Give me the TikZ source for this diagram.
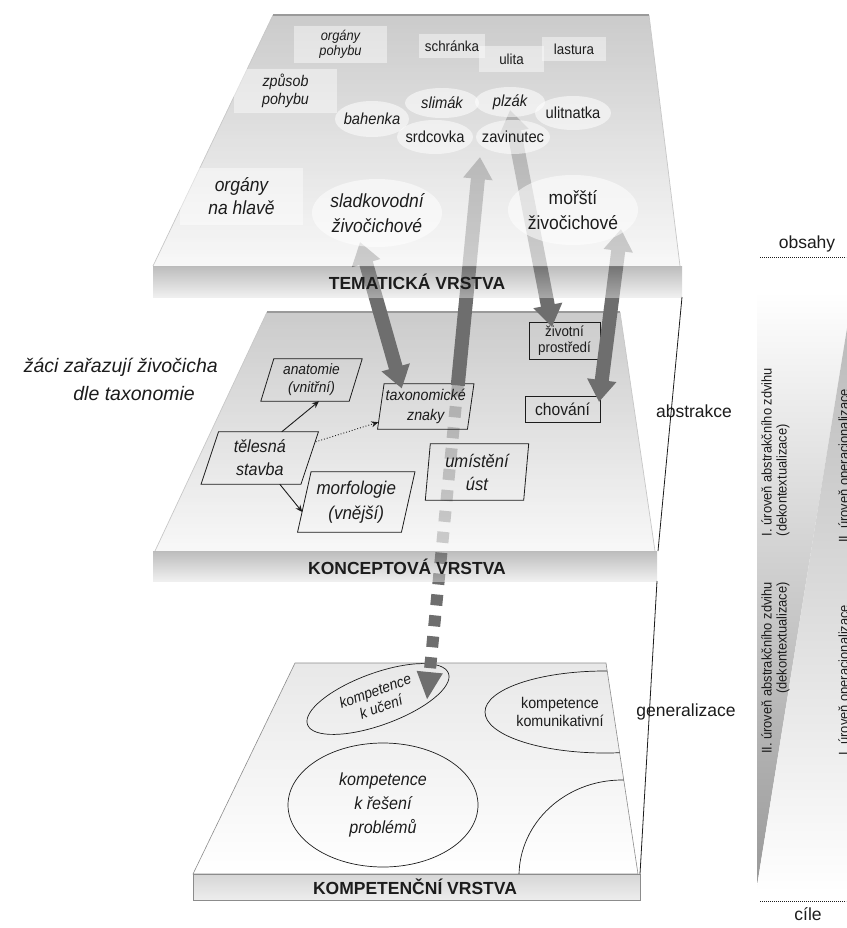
\documentclass[tikz,border=0pt]{standalone}
\usepackage{fontspec}
\setmainfont{Liberation Sans}[FakeStretch=0.92]
\newfontfamily\labelfont{Liberation Sans}
\usetikzlibrary{arrows.meta, positioning, calc, shapes.geometric}
\definecolor{ink}{HTML}{1C1C1C}
\definecolor{arrow-gray}{HTML}{6E6E6E}
\definecolor{rim-gray}{HTML}{9A9A9A}
\pgfdeclarelayer{base}
\pgfdeclarelayer{dash}
\pgfdeclarelayer{midplane}
\pgfdeclarelayer{midbox}
\pgfdeclarelayer{arrows}
\pgfdeclarelayer{topplane}
\pgfsetlayers{base,dash,midplane,midbox,arrows,topplane,main}
\newcommand\fs[2]{\fontsize{#1}{#2}\selectfont}
% light ellipse with its text on the top layer
\newcommand\spot[6]{%
  \fill[spotfill] (#2) ellipse [x radius=#3, y radius=#4];
  \node[font=#5, inner sep=0, align=center, text=ink] (#1) at (#2) {#6};}
% slanted frame round a body node
\newcommand\slantframe[2]{%
  \draw[boxline] ($(#1.south west)+(-#2,0)$) -- ($(#1.south east)+(-#2,0)$)
    -- ($(#1.north east)+(#2,0)$) -- ($(#1.north west)+(#2,0)$) -- cycle;}

\begin{document}
\begin{tikzpicture}[x=1pt, y=-1pt,
    plane/.style={fill opacity=0.7, top color=black!29, bottom color=black!4},
    slab/.style={fill opacity=0.5, top color=black!52, bottom color=black!12},
    rim/.style={draw=rim-gray, line width=1.4pt},
    sideedge/.style={draw=black!22, line width=0.7pt},
    slablabel/.style={font=\labelfont\fs{17.5}{20}\bfseries, text=ink, inner sep=0},
    plate/.style={fill=white, fill opacity=0.45, text opacity=1, inner sep=0,
                  align=center, text=ink},
    spotfill/.style={fill=white, fill opacity=0.55},
    boxbody/.style={inner sep=0, align=center, text=ink},
    boxline/.style={draw=ink, line width=0.8pt},
    ring/.style={draw=ink, line width=0.7pt},
    thinarr/.style={draw=ink, line width=0.9pt, -{Stealth[length=7pt, width=6pt]}},
    bigarr/.style={draw=arrow-gray, line width=14pt},
    twohead/.style={bigarr, {Triangle[length=22pt, width=28pt]}-{Triangle[length=22pt, width=28pt]}},
    onehead/.style={bigarr, -{Triangle[length=22pt, width=28pt]}},
    dasharr/.style={draw=arrow-gray, line width=12pt, dash pattern=on 11pt off 10pt,
                    -{Triangle[length=28pt, width=24pt]}},
    coltext/.style={font=\fs{14}{15}, text=ink, inner sep=0},
    sidetext/.style={font=\labelfont\fs{17.5}{20}, text=ink, inner sep=0},
    dotline/.style={draw=ink, line width=0.8pt, dash pattern=on 0.8pt off 1.2pt},
    linkline/.style={draw=ink, line width=0.8pt}]
  \useasboundingbox (0,0) rectangle (846,928);

  % competence layer
  \begin{pgfonlayer}{base}
    \path[top color=black!9, bottom color=white, draw=black!45, line width=0.6pt]
      (295,663) -- (606,663) -- (638,874) -- (193,874) -- cycle;
    \begin{scope}
      \clip (295,663) -- (606,663) -- (638,874) -- (193,874) -- cycle;
      \draw[ring] (605,712) ellipse [x radius=120, y radius=41];
      \draw[ring] (622,876) ellipse [x radius=103, y radius=96];
    \end{scope}
    \node[ring, ellipse, rotate=20, minimum width=150pt, minimum height=52pt,
          inner sep=0, align=center, font=\fs{15}{17}\itshape, text=ink]
          (kucen) at (378,699) {kompetence\\k učení};
    \node[ring, ellipse, minimum width=190pt, minimum height=124pt, inner sep=0,
          align=center, font=\fs{17.5}{24}\itshape, text=ink]
          (kres) at (383,805) {kompetence\\k řešení\\problémů};
    \node[boxbody, font=\fs{15.5}{18}] (kkom) at (560,712) {kompetence\\komunikativní};
    \path[top color=black!16, bottom color=black!7, draw=black!45, line width=0.6pt]
      (193,874) rectangle (640,900);
    \node[slablabel] (kvrstva) at (415,887) {KOMPETENČNÍ VRSTVA};
  \end{pgfonlayer}

  % concept layer
  \begin{pgfonlayer}{midplane}
    \path[plane] (267,312) -- (620,312) -- (655,551) -- (155,551) -- cycle;
    \draw[sideedge] (155,551) -- (267,312);
    \draw[sideedge] (620,312) -- (655,551);
    \draw[rim] (267,312) -- (620,312);
    \path[slab] (153,551) rectangle (657,581);
  \end{pgfonlayer}
  \begin{pgfonlayer}{midbox}
    \node[boxbody, minimum width=88pt, minimum height=42pt, font=\fs{15}{18}\itshape]
      (ana) at (311.5,380) {anatomie\\(vnitřní)};
    \slantframe{ana}{6.5}
    \node[boxbody, minimum width=89.5pt, minimum height=45pt, font=\fs{15.5}{20}\itshape]
      (tax) at (425.75,406.5) {taxonomické\\znaky};
    \slantframe{tax}{3.25}
    \node[boxbody, minimum width=99.5pt, minimum height=52pt, font=\fs{17.5}{23}\itshape]
      (teles) at (259.75,458) {tělesná\\stavba};
    \slantframe{teles}{8.75}
    \node[boxbody, minimum width=103.5pt, minimum height=60pt, font=\fs{18.5}{25}\itshape]
      (morf) at (356.25,502) {morfologie\\(vnější)};
    \slantframe{morf}{6.75}
    \node[boxbody, minimum width=98pt, minimum height=56pt, font=\fs{18}{23}\itshape]
      (umist) at (477,472) {umístění\\úst};
    \slantframe{umist}{2.5}
    \node[boxbody, boxline, minimum width=71pt, minimum height=37pt, font=\fs{14.5}{16}]
      (zivot) at (564.5,340.5) {životní\\prostředí};
    \node[boxbody, boxline, minimum width=75pt, minimum height=26pt, font=\fs{17}{18}]
      (chov) at (562.5,409) {chování};
    \draw[thinarr] ($(teles.north)+(22,0)$) -- ($(ana.south)+(7.5,0)$);
    \draw[thinarr] ($(teles.south)+(20,0)$) -- ($(morf.west)+(-2,10)$);
    \draw[thinarr, dotted] ($(teles.north east)+(6,10)$) -- ($(tax.south west)+(-2.5,-7)$);
  \end{pgfonlayer}

  % thematic layer
  \begin{pgfonlayer}{topplane}
    \path[plane] (273,15) -- (649,15) -- (680,266) -- (153,266) -- cycle;
    \draw[sideedge] (153,266) -- (273,15);
    \draw[sideedge] (649,15) -- (680,266);
    \draw[rim] (273,15) -- (649,15);
    \path[slab] (153,266) rectangle (682,297);
  \end{pgfonlayer}
  \node[plate, minimum width=93pt, minimum height=37pt, font=\fs{14}{15}\itshape]
    (orgpoh) at (340.5,44.5) {orgány\\pohybu};
  \node[plate, minimum width=103pt, minimum height=44pt, font=\fs{15.5}{18}\itshape]
    (zpusob) at (285.5,91) {způsob\\pohybu};
  \node[plate, minimum width=66pt, minimum height=24pt, font=\fs{14.5}{15}]
    (schr) at (452,46) {schránka};
  \node[plate, minimum width=65pt, minimum height=26pt, font=\fs{14.5}{15}]
    (ulita) at (511.5,59) {ulita};
  \node[plate, minimum width=64pt, minimum height=24pt, font=\fs{14.5}{15}]
    (last) at (574,49) {lastura};
  \node[plate, minimum width=123pt, minimum height=57pt, font=\fs{19}{23}\itshape]
    (orghl) at (241.5,196.5) {orgány\\na hlavě};
  \spot{bah}{372,119}{37}{18}{\fs{16}{18}\itshape}{bahenka}
  \spot{slim}{442,103}{37}{15}{\fs{16}{18}\itshape}{slimák}
  \spot{plzak}{510,102}{35}{15}{\fs{16}{18}\itshape}{plzák}
  \spot{ulit}{573,113}{38}{17}{\fs{16}{18}}{ulitnatka}
  \spot{srd}{435,137}{38}{17}{\fs{16}{18}}{srdcovka}
  \spot{zav}{513,137}{37}{17}{\fs{16}{18}}{zavinutec}
  \spot{slad}{377,213}{65}{34}{\fs{19}{25}\itshape}{sladkovodní\\živočichové}
  \spot{morsti}{573,210}{65}{35}{\fs{19}{25}}{mořští\\živočichové}
  \node[slablabel] (tvrstva) at (417,282) {TEMATICKÁ VRSTVA};
  \node[slablabel] (cvrstva) at (407,567) {KONCEPTOVÁ VRSTVA};

  % links between the layers
  \begin{pgfonlayer}{dash}
    \draw[dasharr] ($(tax)+(32,-21)$) -- ($(kucen)+(49,1)$);
  \end{pgfonlayer}
  \begin{pgfonlayer}{arrows}
    \draw[twohead] ($(slad)+(-17,29)$) -- ($(tax)+(-24,-18)$);
    \draw[onehead] ($(tax)+(32,-21)$) -- ($(zav)+(-33,20)$);
    \draw[twohead] ($(plzak)+(0,8)$) -- ($(zivot)+(-12.5,-13.5)$);
    \draw[twohead] ($(morsti)+(48,19)$) -- ($(chov)+(36.5,-7)$);
  \end{pgfonlayer}
  \draw[linkline] (682,297) -- (658,551);
  \draw[linkline] (657,581) -- (640,874);

  \node[font=\labelfont\fs{19.5}{28}\itshape, align=right, anchor=east, text=ink, inner sep=0]
    (note) at (218,379) {žáci zařazují živočicha\\dle taxonomie\rule{23pt}{0pt}};
  \node[sidetext] (abstr) at (694,411) {abstrakce};
  \node[sidetext] (gener) at (686,712) {generalizace};

  % levels column
  \shade[top color=white, middle color=black!9, bottom color=black!40]
    (757,292) -- (848,292) -- (848,322) -- (757,886) -- cycle;
  \shade[top color=black!27, bottom color=white]
    (848,322) -- (848,893) -- (757,893) -- (757,886) -- cycle;
  \node[coltext, rotate=90, align=left] (abs1) at (775.5,452)
    {I. úroveň abstrakčního zdvihu\\(dekontextualizace)};
  \node[coltext, rotate=90, align=right] (abs2) at (775.5,668)
    {II. úroveň abstrakčního zdvihu\\(dekontextualizace)};
  \node[coltext, rotate=90] (op2) at (845,466) {II. úroveň operacionalizace};
  \node[coltext, rotate=90] (op1) at (845,680) {I. úroveň operacionalizace};
  \node[sidetext] (obs) at (807,244) {obsahy};
  \node[sidetext] (cil) at (808,914) {cíle};
  \draw[dotline] (760,257) -- (846,257);
  \draw[dotline] (760,901) -- (846,901);
\end{tikzpicture}
\end{document}
